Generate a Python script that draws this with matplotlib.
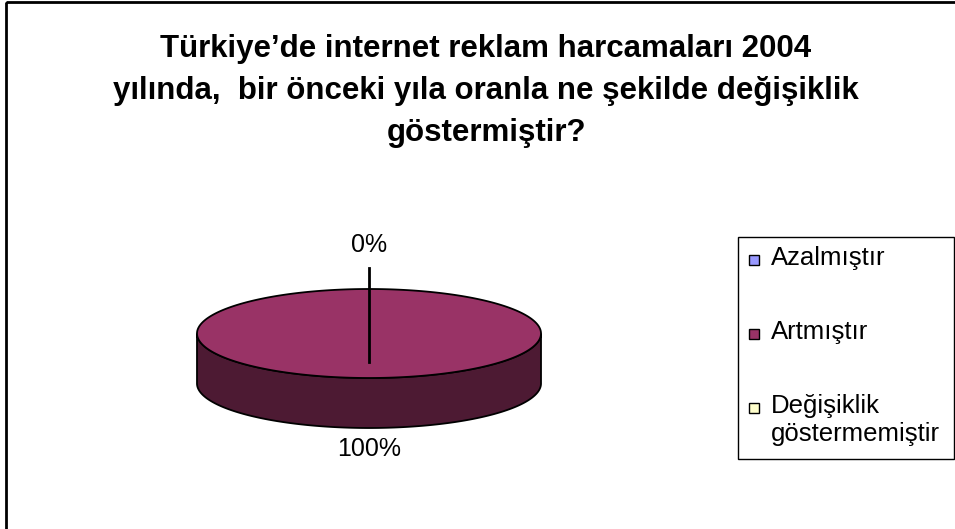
import numpy as np
import matplotlib
matplotlib.use('Agg')
import matplotlib.pyplot as plt
import matplotlib.patches as mp

# data
labels = ['Azalmıştır', 'Artmıştır', 'Değişiklik\ngöstermemiştir']
values = [0, 100, 0]
top_colors = ['#9999FF', '#993366', '#FFFFCC']
side_colors = ['#4D4D80', '#4D1A33', '#808066']
title_lines = ['Türkiye’de internet reklam harcamaları 2004',
               'yılında,  bir önceki yıla oranla ne şekilde değişiklik',
               'göstermiştir?']

plt.rcParams['font.family'] = ['Liberation Sans', 'DejaVu Sans']

W, H = 955, 529
fig = plt.figure(figsize=(W / 100, H / 100), dpi=100)
ax = fig.add_axes([0, 0, 1, 1])
ax.set_xlim(0, W)
ax.set_ylim(H, 0)
ax.axis('off')

# outer frame
ax.add_patch(mp.Rectangle((6, 2), 960, 540, fill=False, lw=2, color='black'))

# title
for i, line in enumerate(title_lines):
    ax.text(486, 57 + 42 * i, line, ha='center', va='baseline', fontsize=22.5,
            fontweight='bold')

# 3d pie in pixel space
cx, cy, rx, ry, depth = 369, 333.5, 172, 44.5, 50
total = sum(values)

def pt(t, dy=0):
    return cx + rx * np.cos(t), cy - ry * np.sin(t) + dy

start = np.pi / 2
angles = []
for v in values:
    end = start - 2 * np.pi * v / total
    angles.append((start, end))
    start = end

# sides first (front part only)
for (a0, a1), v, sc in zip(angles, values, side_colors):
    if v == 0:
        continue
    t = np.linspace(a0, a1, 400)
    t = t[np.sin(t) <= 0]
    if len(t) == 0:
        continue
    xs, ys = pt(t)
    xb, yb = pt(t[::-1], depth)
    poly = np.column_stack([np.r_[xs, xb], np.r_[ys, yb]])
    ax.add_patch(mp.Polygon(poly, closed=True, fc=sc, ec='black', lw=1.3))

# tops
for (a0, a1), v, tc in zip(angles, values, top_colors):
    if v == 0:
        continue
    t = np.linspace(a0, a1, 400)
    xs, ys = pt(t)
    if v < total:
        xs = np.r_[cx, xs]
        ys = np.r_[cy, ys]
    ax.add_patch(mp.Polygon(np.column_stack([xs, ys]), closed=True, fc=tc, ec='black', lw=1.3))

# data labels
shown = set()
for (a0, a1), v in zip(angles, values):
    m = (a0 + a1) / 2
    txt = '%d%%' % round(100 * v / total)
    x, y = pt(m, depth if np.sin(m) < 0 else 0)
    if v == 0:
        key = round(np.cos(m), 3), round(np.sin(m), 3)
        if key in shown:
            continue
        shown.add(key)
        ax.plot([x, x], [y - 21, y + 73], color='black', lw=2)
        ax.text(x, y - 44, txt, ha='center', va='center', fontsize=18)
    else:
        ax.text(x, y + 21 * (-np.sin(m)), txt, ha='center', va='center', fontsize=18)

# legend
ax.add_patch(mp.Rectangle((738, 237), 216, 222, fill=False, lw=1, color='black'))
rows = [260, 334, 408]
for lab, tc, y in zip(labels, top_colors, rows):
    ax.add_patch(mp.Rectangle((749, y - 5), 10, 10, fc=tc, ec='black', lw=1))
    ax.text(771, y - 14, lab, ha='left', va='top', fontsize=18.5, linespacing=1.2)

fig.savefig('out.png', dpi=100)
